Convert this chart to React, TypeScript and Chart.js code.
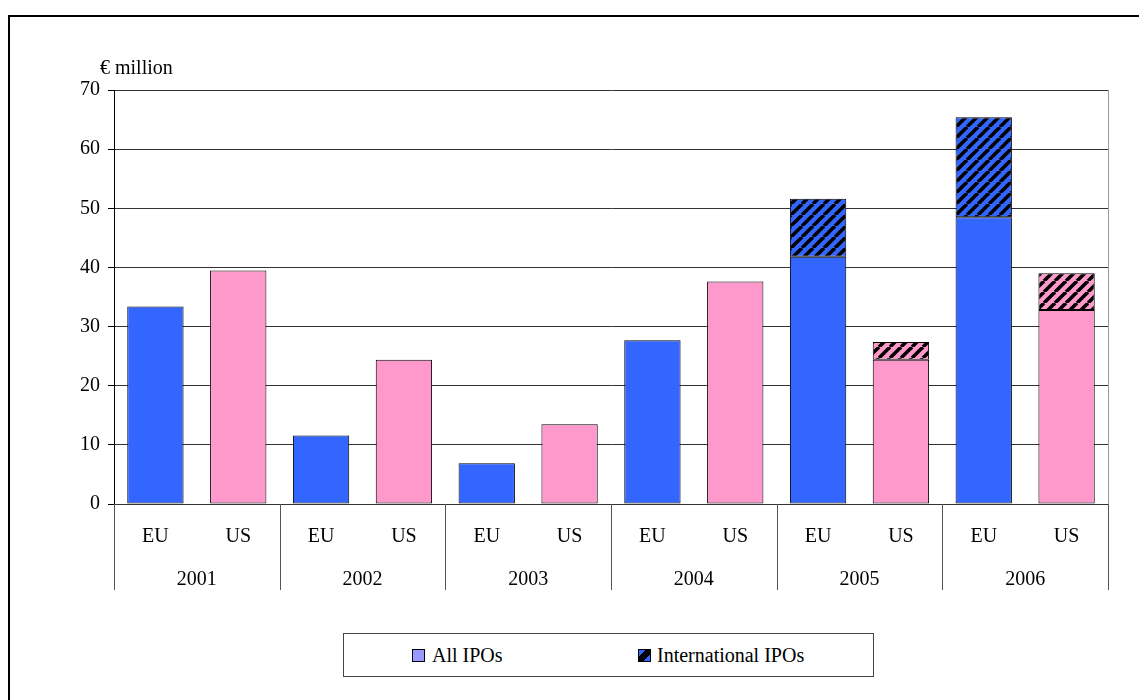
import React, { useEffect, useRef } from "react";
import { Chart, registerables } from "chart.js";
Chart.register(...registerables);

const categories = ["EU", "US", "EU", "US", "EU", "US", "EU", "US", "EU", "US", "EU", "US"];
const years = ["2001", "2002", "2003", "2004", "2005", "2006"];
const allIPOs = [33.4, 39.5, 11.6, 24.4, 6.9, 13.5, 27.7, 37.6, 41.8, 24.4, 48.5, 32.8];
const internationalIPOs = [null, null, null, null, null, null, null, null, 9.8, 3.0, 16.9, 6.2];
const yMin = 0;
const yMax = 70;
const yStep = 10;
const yAxisTitle = "€ million";

const EU_COLOR = "#3366FF";
const US_COLOR = "#FF99CC";
const FONT = "'Liberation Serif', 'Times New Roman', serif";
const FS = 20;

function makePattern(bg: string): CanvasPattern | string {
  const size = 11;
  const c = document.createElement("canvas");
  c.width = size;
  c.height = size;
  const g = c.getContext("2d");
  if (!g) return bg;
  g.fillStyle = bg;
  g.fillRect(0, 0, size, size);
  g.strokeStyle = "#000";
  g.lineWidth = 3.5;
  for (const off of [-size, 0, size]) {
    g.beginPath();
    g.moveTo(off, size);
    g.lineTo(off + size, 0);
    g.stroke();
  }
  const p = g.createPattern(c, "repeat");
  return p || bg;
}

const deco = {
  id: "deco",
  afterDraw(chart: any) {
    const { ctx, chartArea, scales } = chart;
    const { left, right, top, bottom } = chartArea;
    const x = scales.x;
    const x2 = scales.x2;
    ctx.save();
    ctx.lineWidth = 1;
    ctx.strokeStyle = "#999";
    ctx.beginPath();
    ctx.moveTo(Math.round(right) + 0.5, top);
    ctx.lineTo(Math.round(right) + 0.5, bottom);
    ctx.stroke();
    ctx.strokeStyle = "#555";
    const yb = x2.bottom;
    for (let i = 0; i <= years.length; i++) {
      let px: number;
      if (i === 0) px = left;
      else if (i === years.length) px = right;
      else px = (x.getPixelForValue(2 * i - 1) + x.getPixelForValue(2 * i)) / 2;
      px = Math.round(px) + 0.5;
      ctx.beginPath();
      ctx.moveTo(px, bottom);
      ctx.lineTo(px, yb);
      ctx.stroke();
    }
    ctx.fillStyle = "#000";
    ctx.font = `${FS}px ${FONT}`;
    ctx.textBaseline = "middle";
    ctx.textAlign = "left";
    ctx.fillText(yAxisTitle, left - 14, top - 21);
    ctx.restore();
  },
};

export default function App() {
  const ref = useRef<HTMLCanvasElement | null>(null);

  useEffect(() => {
    if (!ref.current) return;
    const baseColors = categories.map((c) => (c === "EU" ? EU_COLOR : US_COLOR));
    const patColors = categories.map((c) => makePattern(c === "EU" ? EU_COLOR : US_COLOR));
    const chart = new Chart(ref.current, {
      type: "bar",
      data: {
        labels: categories,
        datasets: [
          {
            label: "All IPOs",
            data: allIPOs,
            backgroundColor: baseColors,
            borderColor: "#000",
            borderWidth: 1,
            borderSkipped: false,
            barPercentage: 0.68,
            categoryPercentage: 1,
          },
          {
            label: "International IPOs",
            data: internationalIPOs as any,
            backgroundColor: patColors as any,
            borderColor: "#000",
            borderWidth: 1,
            borderSkipped: false,
            barPercentage: 0.68,
            categoryPercentage: 1,
          },
        ],
      },
      options: {
        responsive: false,
        animation: false,
        devicePixelRatio: 1,
        layout: { padding: { left: 0, right: 39, top: 73, bottom: 27 } },
        plugins: {
          legend: { display: false },
          tooltip: { enabled: false },
        },
        scales: {
          x: {
            stacked: true,
            position: "bottom",
            grid: { display: false, drawTicks: false },
            border: { display: false },
            ticks: {
              color: "#000",
              font: { family: FONT, size: FS },
              padding: 21,
              maxRotation: 0,
              autoSkip: false,
            },
            afterFit(scale: any) {
              scale.height = 52;
            },
          },
          x2: {
            type: "category",
            labels: years,
            position: "bottom",
            offset: true,
            grid: { display: false, drawTicks: false },
            border: { display: false },
            ticks: {
              color: "#000",
              font: { family: FONT, size: FS },
              padding: 12,
              maxRotation: 0,
              autoSkip: false,
            },
            afterFit(scale: any) {
              scale.height = 34;
            },
          },
          y: {
            stacked: true,
            min: yMin,
            max: yMax,
            ticks: {
              stepSize: yStep,
              color: "#000",
              font: { family: FONT, size: FS },
              padding: 8,
            },
            grid: {
              color: "#333",
              lineWidth: 1,
              tickLength: 6,
              tickColor: "#000",
            },
            border: { display: true, color: "#000", width: 1 },
            afterFit(scale: any) {
              scale.width = 104;
            },
          },
        },
      },
      plugins: [deco],
    } as any);
    return () => chart.destroy();
  }, []);

  const swatch: React.CSSProperties = {
    position: "absolute",
    top: 15,
    width: 11,
    height: 11,
    border: "1px solid #000",
  };
  const label: React.CSSProperties = {
    position: "absolute",
    top: 0,
    lineHeight: "43px",
    fontFamily: FONT,
    fontSize: FS,
    color: "#000",
    whiteSpace: "nowrap",
  };

  return (
    <div style={{ paddingTop: 7 }}>
      <div
        style={{
          position: "relative",
          width: 1139,
          height: 685,
          borderTop: "2px solid #000",
          borderLeft: "2px solid #000",
          boxSizing: "border-box",
          overflow: "hidden",
        }}
      >
        <canvas
          ref={ref}
          width={1137}
          height={600}
          style={{ position: "absolute", left: 0, top: 0, width: 1137, height: 600, display: "block" }}
        />
        <div
          style={{
            position: "absolute",
            left: 333,
            top: 616,
            width: 531,
            height: 44,
            border: "1px solid #444",
            boxSizing: "border-box",
            background: "#fff",
          }}
        >
          <div style={{ ...swatch, left: 68, background: "#9999FF" }} />
          <div style={{ ...label, left: 88 }}>All IPOs</div>
          <div
            style={{
              ...swatch,
              left: 294,
              background: `linear-gradient(135deg, ${EU_COLOR} 30%, #000 30%, #000 70%, ${EU_COLOR} 70%)`,
            }}
          />
          <div style={{ ...label, left: 313 }}>International IPOs</div>
        </div>
      </div>
    </div>
  );
}
